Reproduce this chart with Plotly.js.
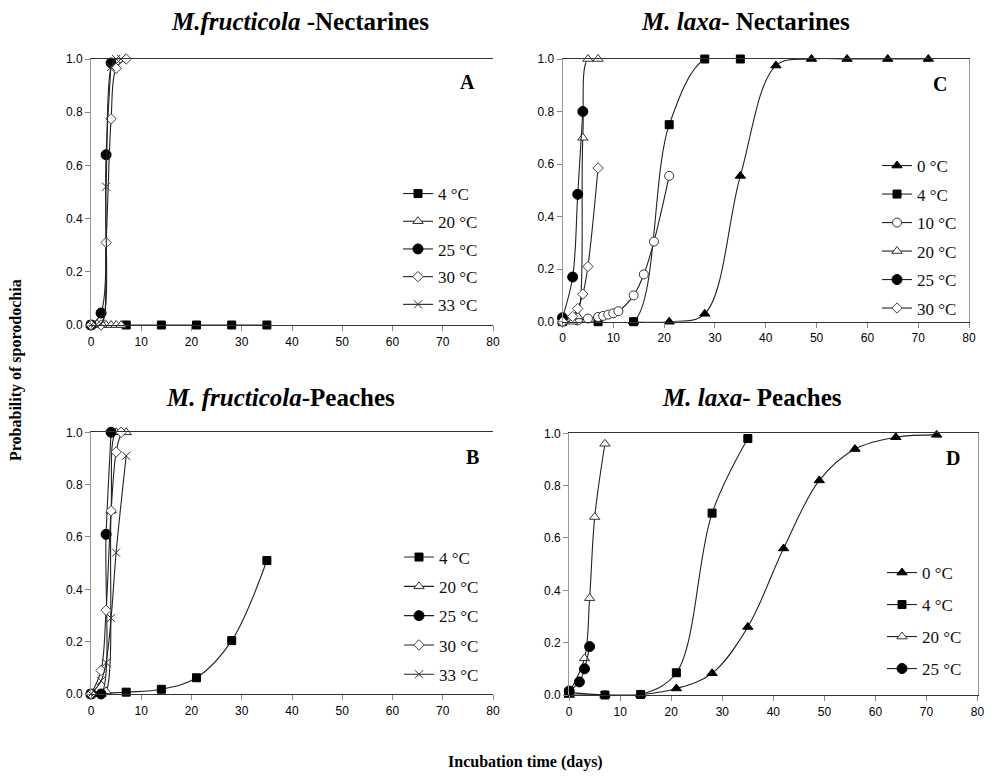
<!DOCTYPE html>
<html><head><meta charset="utf-8">
<script src="https://cdn.plot.ly/plotly-3.0.1.min.js"></script>
<style>html,body{margin:0;padding:0;background:#fff}#chart{width:991px;height:776px}</style>
</head><body><div id="chart"></div>
<script>
// ---------- DATA ----------
// Panel A: M. fructicola - Nectarines
const A_labels = ["4 °C","20 °C","25 °C","30 °C","33 °C"];
const A_d4  = [0,7,14,21,28,35];      const A_p4  = [0,0,0,0,0,0];
const A_d20 = [0,2,3,4,5,6];          const A_p20 = [0,0,0,0,0,0];
const A_d25 = [0,2,3,4];              const A_p25 = [0,0.045,0.64,0.985];
const A_d30 = [0,2,3,4,5,7];          const A_p30 = [0,0,0.31,0.775,0.965,1.0];
const A_d33 = [0,2,3,4,5,6];          const A_p33 = [0,0.005,0.52,0.97,1.0,1.0];
// Panel B: M. fructicola - Peaches
const B_labels = ["4 °C","20 °C","25 °C","30 °C","33 °C"];
const B_d4  = [0,7,14,21,28,35];      const B_p4  = [0,0.007,0.018,0.062,0.204,0.51];
const B_d20 = [0,2,3,4,5,7];          const B_p20 = [0,0,0.01,0.70,1.0,1.0];
const B_d25 = [0,2,3,4];              const B_p25 = [0,0,0.61,1.0];
const B_d30 = [0,2,3,4,5,6];          const B_p30 = [0,0.09,0.32,0.70,0.925,1.0];
const B_d33 = [0,2,3,4,5,7];          const B_p33 = [0,0.05,0.12,0.29,0.54,0.91];
// Panel C: M. laxa - Nectarines
const C_labels = ["0 °C","4 °C","10 °C","20 °C","25 °C","30 °C"];
const C_d0  = [14,21,28,35,42,49,56,64,72]; const C_p0 = [0,0,0.03,0.555,0.975,1,1,1,1];
const C_d4  = [0,7,14,21,28,35];      const C_p4  = [0,0,0,0.75,1,1];
const C_d10 = [0,3,5,7,8,9,10,11,14,16,18,21];
const C_p10 = [0,0.005,0.012,0.018,0.022,0.027,0.032,0.04,0.10,0.18,0.305,0.555];
const C_d20 = [0,2,3,4,5,7];          const C_p20 = [0,0,0.02,0.70,1,1];
const C_d25 = [0,2,3,4];              const C_p25 = [0.015,0.17,0.485,0.80];
const C_d30 = [0,2,3,4,5,7];          const C_p30 = [0,0.02,0.05,0.105,0.21,0.585];
// Panel D: M. laxa - Peaches
const D_labels = ["0 °C","4 °C","20 °C","25 °C"];
const D_d0  = [0,7,14,21,28,35,42,49,56,64,72];
const D_p0  = [0,0,0.002,0.025,0.083,0.26,0.56,0.82,0.94,0.985,0.994];
const D_d4  = [0,7,14,21,28,35];      const D_p4  = [0.01,0,0.002,0.085,0.695,0.98];
const D_d20 = [0,3,4,5,7];            const D_p20 = [0.01,0.14,0.37,0.68,0.96];
const D_d25 = [0,2,3,4];              const D_p25 = [0.015,0.05,0.10,0.185];

const xTicks = [0,10,20,30,40,50,60,70,80];
const yTicks = [0,0.2,0.4,0.6,0.8,1.0];
const yTickText = ["0.0","0.2","0.4","0.6","0.8","1.0"];

// ---------- STYLES ----------
const LINE = '#222';
const sty = {
  sqF:  {symbol:'square', size:8, color:'#000', line:{color:'#000', width:1}},
  triF: {symbol:'triangle-up', size:9, color:'#000', line:{color:'#000', width:1}},
  triO: {symbol:'triangle-up', size:9, color:'#fff', line:{color:'#333', width:1}},
  cirF: {symbol:'circle', size:10, color:'#000', line:{color:'#000', width:1}},
  cirO: {symbol:'circle', size:9, color:'#fff', line:{color:'#333', width:1}},
  diaO: {symbol:'diamond', size:8, color:'#fff', line:{color:'#444', width:1}},
  xx:   {symbol:'x-thin-open', size:8, color:'#333', line:{color:'#333', width:1}}
};
let gid = 0;
function tr(x, y, name, m, xa, ya, leg) {
  gid++;
  return {x:x, y:y, name:name, type:'scatter', mode:'lines+markers',
    line:{color:LINE, width:1.1, shape:'spline', smoothing:1},
    marker:m, xaxis:xa, yaxis:ya, legend:leg, legendgroup:'g'+gid, cliponaxis:false};
}
const data = [
  tr(A_d4, A_p4, A_labels[0], sty.sqF, 'x','y','legend'),
  tr(A_d20,A_p20,A_labels[1], sty.triO,'x','y','legend'),
  tr(A_d25,A_p25,A_labels[2], sty.cirF,'x','y','legend'),
  tr(A_d30,A_p30,A_labels[3], sty.diaO,'x','y','legend'),
  tr(A_d33,A_p33,A_labels[4], sty.xx,  'x','y','legend'),

  tr(C_d0, C_p0, C_labels[0], sty.triF,'x2','y2','legend2'),
  tr(C_d4, C_p4, C_labels[1], sty.sqF, 'x2','y2','legend2'),
  tr(C_d10,C_p10,C_labels[2], sty.cirO,'x2','y2','legend2'),
  tr(C_d20,C_p20,C_labels[3], sty.triO,'x2','y2','legend2'),
  tr(C_d25,C_p25,C_labels[4], sty.cirF,'x2','y2','legend2'),
  tr(C_d30,C_p30,C_labels[5], sty.diaO,'x2','y2','legend2'),

  tr(B_d4, B_p4, B_labels[0], sty.sqF, 'x3','y3','legend3'),
  tr(B_d20,B_p20,B_labels[1], sty.triO,'x3','y3','legend3'),
  tr(B_d25,B_p25,B_labels[2], sty.cirF,'x3','y3','legend3'),
  tr(B_d30,B_p30,B_labels[3], sty.diaO,'x3','y3','legend3'),
  tr(B_d33,B_p33,B_labels[4], sty.xx,  'x3','y3','legend3'),

  tr(D_d0, D_p0, D_labels[0], sty.triF,'x4','y4','legend4'),
  tr(D_d4, D_p4, D_labels[1], sty.sqF, 'x4','y4','legend4'),
  tr(D_d20,D_p20,D_labels[2], sty.triO,'x4','y4','legend4'),
  tr(D_d25,D_p25,D_labels[3], sty.cirF,'x4','y4','legend4')
];

const W = 991, H = 776;
const px = v => v / W, py = v => 1 - v / H;
const tickFont = {family:'Liberation Sans, Arial, sans-serif', size:12, color:'#000'};
function xax(d0, d1, anchor, mirror) {
  return {domain:[px(d0), px(d1)], range:[0,80], anchor:anchor, tickvals:xTicks,
    ticks:'outside', ticklen:5, tickcolor:'#888', showline:true, linecolor:'#333', linewidth:1.3,
    mirror:mirror, showgrid:false, zeroline:false, tickfont:tickFont, fixedrange:true};
}
function yax(t, b, anchor, mirror) {
  return {domain:[py(b), py(t)], range:[0,1], anchor:anchor, tickvals:yTicks, ticktext:yTickText,
    ticks:'outside', ticklen:5, tickcolor:'#888', showline:true, linecolor:'#999', linewidth:1,
    mirror:mirror, showgrid:false, zeroline:false, tickfont:tickFont, fixedrange:true};
}
const legFont = {family:'Liberation Serif, Times New Roman, serif', size:17, color:'#111'};
function leg(left, centerY, gap) {
  return {x:px(left), xanchor:'left', y:py(centerY), yanchor:'middle', xref:'paper', yref:'paper',
    font:legFont, bgcolor:'rgba(0,0,0,0)', borderwidth:0, tracegroupgap:gap,
    traceorder:'grouped', itemwidth:30};
}
const serif = 'Liberation Serif, Times New Roman, serif';
function ann(x, y, text, size, extra) {
  return Object.assign({xref:'paper', yref:'paper', x:px(x), y:py(y), text:text, showarrow:false,
    xanchor:'center', yanchor:'middle', font:{family:serif, size:size, color:'#000'}}, extra||{});
}
const layout = {
  width:W, height:H, margin:{l:0,r:0,t:0,b:0}, paper_bgcolor:'#fff', plot_bgcolor:'#fff',
  showlegend:true,
  xaxis:  xax(91, 493, 'y', true),
  yaxis:  yax(59, 325, 'x', false),
  xaxis2: xax(562.5, 969, 'y2', true),
  yaxis2: yax(59, 321.7, 'x2', true),
  xaxis3: xax(91, 493, 'y3', true),
  yaxis3: yax(432.3, 694, 'x3', false),
  xaxis4: xax(569.2, 977.5, 'y4', true),
  yaxis4: yax(433.3, 695, 'x4', true),
  legend:  leg(398, 249, 2.6),
  legend2: leg(877, 237, 3.4),
  legend3: leg(399, 616, 4.2),
  legend4: leg(882, 621, 6.9),
  annotations: [
    ann(300, 21, '<b><i>M.fructicola</i> -Nectarines</b>', 25),
    ann(745, 21, '<b><i>M. laxa</i>- Nectarines</b>', 25),
    ann(280, 398, '<b><i>M. fructicola</i>-Peaches</b>', 25),
    ann(752, 398, '<b><i>M. laxa</i>- Peaches</b>', 25),
    ann(467, 82, '<b>A</b>', 20),
    ann(472, 457, '<b>B</b>', 20),
    ann(940, 84, '<b>C</b>', 20),
    ann(953, 458, '<b>D</b>', 20),
    ann(16, 370, '<b>Probability of sporodochia</b>', 16, {textangle:-90}),
    ann(525, 762, '<b>Incubation time (days)</b>', 16)
  ]
};
Plotly.newPlot('chart', data, layout, {staticPlot:true, displayModeBar:false});
</script>
</body></html>
